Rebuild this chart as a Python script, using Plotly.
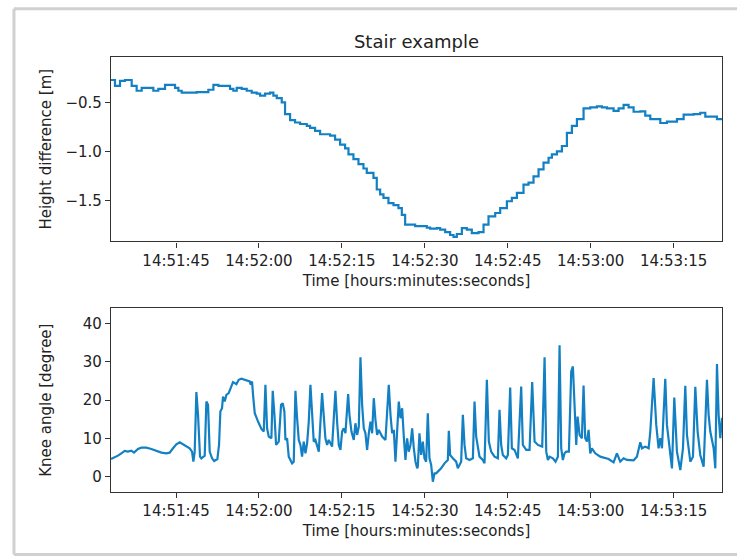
import plotly.graph_objects as go
from datetime import datetime, timedelta

# ---------------- data ----------------
base_time = datetime(2021, 1, 1, 14, 51, 45)
x_start_s = -11.76
x_end_s = 98.75

# Height difference (step series), time offsets in seconds from 14:51:45
height_t = [-11.76, -11.04, -10.13, -9.23, -8.02, -7.12, -6.21, -4.10, -3.20, -1.99,
            -0.18, 0.42, 1.03, 3.74, 5.85, 6.76, 7.66, 9.77, 10.37, 10.98,
            11.88, 12.79, 13.69, 14.60, 15.20, 16.11, 17.01, 17.61, 18.22, 19.12,
            19.72, 20.63, 21.53, 22.44, 23.65, 24.25, 25.15, 26.06, 27.87, 28.77,
            29.68, 30.58, 31.19, 32.09, 33.00, 33.90, 34.50, 35.71, 36.31, 36.92,
            37.52, 38.42, 39.33, 40.23, 40.84, 41.44, 43.25, 45.36, 45.96, 47.17,
            47.77, 48.68, 49.58, 50.19, 50.79, 51.70, 52.60, 53.50, 54.71, 55.62,
            56.52, 57.73, 58.63, 59.84, 60.74, 61.65, 62.85, 63.76, 64.66, 65.57,
            66.47, 67.38, 67.98, 68.89, 69.79, 70.70, 71.60, 72.51, 73.71, 74.92,
            76.12, 77.03, 77.94, 79.14, 80.05, 80.95, 81.85, 82.76, 83.97, 84.87,
            85.78, 87.59, 88.79, 90.60, 91.81, 93.62, 94.82, 95.73, 97.84, 98.75]
height_v = [-0.27, -0.33, -0.28, -0.27, -0.33, -0.38, -0.35, -0.38, -0.36, -0.32,
            -0.35, -0.38, -0.40, -0.395, -0.37, -0.32, -0.33, -0.36, -0.38, -0.35,
            -0.36, -0.38, -0.40, -0.41, -0.43, -0.41, -0.40, -0.43, -0.455, -0.50,
            -0.62, -0.68, -0.705, -0.72, -0.74, -0.76, -0.79, -0.825, -0.84, -0.88,
            -0.93, -0.97, -1.03, -1.08, -1.13, -1.175, -1.22, -1.27, -1.39, -1.44,
            -1.475, -1.53, -1.55, -1.58, -1.65, -1.75, -1.765, -1.78, -1.79, -1.785,
            -1.80, -1.825, -1.855, -1.875, -1.845, -1.785, -1.80, -1.835, -1.825, -1.75,
            -1.665, -1.63, -1.58, -1.51, -1.475, -1.425, -1.34, -1.32, -1.255, -1.185,
            -1.115, -1.065, -1.03, -1.00, -0.945, -0.81, -0.74, -0.67, -0.56, -0.55,
            -0.54, -0.55, -0.56, -0.585, -0.56, -0.525, -0.55, -0.595, -0.59, -0.635,
            -0.67, -0.71, -0.695, -0.67, -0.625, -0.62, -0.605, -0.645, -0.67, -0.67]

# Knee angle, time offsets in seconds from 14:51:45
knee_t = [-11.76, -11.10, -10.50, -9.89, -9.29, -8.69, -8.08, -7.60, -6.88, -6.27,
          -5.37, -4.46, -3.86, -3.26, -2.65, -1.75, -1.15, -0.54, 0.06, 0.66,
          1.27, 1.87, 2.47, 2.90, 3.14, 3.38, 3.68, 3.98, 4.34, 4.58,
          4.89, 5.19, 5.49, 5.79, 6.09, 6.52, 6.90, 7.48, 7.78, 8.02,
          8.32, 8.50, 8.81, 9.11, 9.53, 10.01, 10.31, 10.92, 11.34, 11.82,
          12.43, 13.03, 13.33, 13.51, 13.75, 13.93, 14.24, 14.84, 15.44, 15.87,
          16.17, 16.47, 16.77, 17.25, 17.49, 17.80, 18.10, 18.58, 19.00, 19.30,
          19.60, 19.79, 20.09, 20.39, 20.99, 21.29, 21.60, 21.90, 22.20, 22.50,
          22.80, 23.10, 23.41, 23.71, 24.01, 24.31, 24.61, 24.91, 25.21, 25.82,
          26.42, 26.72, 27.02, 27.33, 27.63, 28.23, 28.83, 29.13, 29.44, 29.74,
          30.04, 30.34, 30.64, 31.13, 31.37, 31.73, 32.15, 32.45, 32.75, 33.06,
          33.36, 33.66, 33.96, 34.26, 34.56, 34.87, 35.17, 35.47, 35.77, 36.07,
          36.37, 36.67, 37.28, 37.88, 38.48, 38.79, 39.09, 39.39, 39.69, 39.99,
          40.29, 40.60, 40.90, 41.20, 41.50, 41.80, 42.10, 42.41, 42.71, 43.01,
          43.31, 43.61, 43.73, 44.03, 44.34, 44.64, 44.94, 45.24, 45.54, 45.84,
          46.15, 46.45, 46.75, 47.05, 47.35, 47.95, 48.56, 49.16, 49.34, 49.58,
          50.07, 50.67, 50.97, 51.57, 51.88, 52.18, 52.48, 53.08, 53.69, 53.99,
          54.29, 54.89, 55.49, 55.80, 56.22, 56.58, 57.00, 57.61, 58.21, 58.51,
          58.81, 59.11, 59.72, 60.02, 60.44, 60.74, 61.23, 61.83, 62.43, 62.73,
          63.34, 63.94, 64.42, 64.85, 65.45, 66.23, 66.66, 66.96, 67.26, 67.56,
          68.16, 68.64, 69.07, 69.37, 69.67, 69.97, 70.27, 70.58, 71.06, 71.48,
          71.78, 72.02, 72.39, 72.63, 72.99, 73.41, 73.71, 74.01, 74.32, 74.62,
          74.92, 75.22, 75.82, 76.73, 77.63, 78.24, 79.14, 79.74, 80.35, 80.95,
          81.55, 82.16, 82.76, 83.36, 83.97, 84.27, 84.87, 85.48, 85.78, 86.38,
          86.86, 87.28, 87.59, 87.89, 88.49, 88.79, 89.40, 89.70, 90.12, 90.60,
          91.21, 91.69, 92.11, 92.41, 93.02, 93.50, 93.92, 94.34, 94.82, 95.43,
          96.03, 96.33, 96.63, 97.24, 97.54, 97.84, 98.14, 98.44, 98.75]
knee_v = [4.63, 4.98, 5.50, 6.11, 6.73, 6.55, 6.81, 6.29, 7.25, 7.60,
          7.60, 7.25, 6.99, 6.55, 6.29, 6.11, 6.29, 7.42, 8.47, 9.00,
          8.47, 7.86, 7.42, 6.55, 3.93, 6.55, 22.10, 16.16, 5.24, 4.80,
          5.24, 5.50, 19.65, 18.78, 6.55, 4.80, 4.11, 4.63, 8.30, 17.03,
          17.90, 20.96, 19.65, 21.40, 21.84, 23.58, 24.72, 24.19, 25.33, 25.59,
          25.33, 25.07, 24.89, 24.02, 24.89, 21.40, 16.59, 14.41, 12.49, 11.79,
          24.02, 12.66, 10.48, 10.04, 22.45, 16.16, 8.30, 9.17, 18.78, 19.21,
          17.03, 9.61, 10.04, 5.24, 3.49, 3.93, 22.45, 15.28, 9.61, 8.30,
          5.24, 9.17, 6.11, 8.73, 14.41, 24.02, 15.28, 9.17, 9.61, 6.55,
          21.84, 16.16, 10.04, 8.30, 9.61, 7.86, 22.45, 14.41, 8.30, 6.99,
          11.79, 12.66, 11.35, 21.57, 16.16, 11.79, 9.61, 13.97, 10.92, 13.10,
          31.18, 18.78, 12.66, 11.35, 6.99, 11.35, 14.41, 11.35, 20.52, 14.85,
          10.92, 12.23, 10.48, 9.61, 24.02, 16.16, 11.35, 12.23, 3.93, 11.79,
          19.65, 15.28, 17.90, 10.48, 4.37, 10.04, 6.55, 8.30, 12.66, 7.42,
          3.93, 2.18, 2.62, 11.35, 5.68, 9.17, 4.80, 3.93, 16.59, 4.80,
          3.06, -1.31, 0.87, 0.87, 1.31, 2.18, 3.49, 4.37, 11.97, 5.68,
          4.80, 3.93, 2.18, 3.93, 16.16, 8.30, 4.80, 4.37, 4.80, 19.65,
          10.48, 5.24, 4.37, 3.49, 25.33, 9.17, 6.55, 5.24, 4.80, 17.47,
          8.30, 5.68, 4.80, 5.68, 23.32, 7.42, 6.99, 4.80, 23.58, 8.30,
          6.99, 6.99, 24.72, 9.17, 8.30, 7.86, 31.18, 6.55, 4.37, 5.24,
          4.80, 3.93, 5.24, 34.32, 7.42, 4.37, 6.11, 6.55, 6.55, 27.51,
          28.82, 18.78, 8.30, 15.72, 10.92, 10.04, 23.84, 10.04, 9.17, 12.23,
          6.11, 7.42, 6.11, 5.24, 4.80, 4.63, 3.76, 6.11, 3.93, 4.80,
          4.37, 4.28, 4.28, 5.24, 8.99, 7.42, 7.86, 7.42, 11.79, 25.77,
          13.54, 7.42, 10.04, 7.42, 25.59, 13.54, 5.24, 2.18, 20.70, 6.55,
          1.75, 7.42, 23.76, 10.92, 3.93, 5.24, 23.50, 11.79, 5.68, 2.62,
          25.33, 16.16, 11.79, 7.42, 2.18, 29.43, 16.16, 10.04, 15.40]

height_yticks = [-1.5, -1.0, -0.5]
height_yticklabels = ["\u22121.5", "\u22121.0", "\u22120.5"]
knee_yticks = [0, 10, 20, 30, 40]
height_range = [-1.921, -0.035]
knee_range = [-4.0, 44.0]


def to_time(offsets):
    return [base_time + timedelta(seconds=s) for s in offsets]


line_color = "#1380c4"
text_color = "#222222"
font_family = "DejaVu Sans"

fig = go.Figure()
fig.add_trace(go.Scatter(x=to_time(height_t), y=height_v, mode="lines",
                         line=dict(color=line_color, width=2.2, shape="hv"),
                         xaxis="x", yaxis="y", showlegend=False))
fig.add_trace(go.Scatter(x=to_time(knee_t), y=knee_v, mode="lines",
                         line=dict(color=line_color, width=2.2),
                         xaxis="x2", yaxis="y2", showlegend=False))

x_range = [base_time + timedelta(seconds=x_start_s), base_time + timedelta(seconds=x_end_s)]

common_x = dict(type="date", range=x_range, tickformat="%H:%M:%S", automargin=False,
                tick0=base_time, dtick=15000, showgrid=False, zeroline=False,
                showline=True, linecolor="#333333", linewidth=1.2, mirror=True,
                ticks="outside", ticklen=5, tickwidth=1.2, tickcolor="#333333",
                tickfont=dict(family=font_family, size=15, color=text_color))
common_y = dict(showgrid=False, zeroline=False, showline=True, linecolor="#333333",
                automargin=False,
                linewidth=1.2, mirror=True, ticks="outside", ticklen=5, tickwidth=1.2,
                tickcolor="#333333",
                tickfont=dict(family=font_family, size=15, color=text_color))

frame_color = "#d0d0d0"
frame_lines = [
    dict(x0=-0.1588, x1=-0.1588, y0=-0.1434, y1=1.1112),   # left
    dict(x0=-0.1588, x1=1.05, y0=1.1112, y1=1.1112),       # top
    dict(x0=-0.1588, x1=1.05, y0=-0.1434, y1=-0.1434),     # bottom
]
shapes = [dict(type="line", xref="paper", yref="paper", layer="below",
               line=dict(color=frame_color, width=3), **fl) for fl in frame_lines]

fig.update_layout(
    width=737, height=558,
    paper_bgcolor="white", plot_bgcolor="white",
    margin=dict(l=111, r=15, t=57, b=66, pad=0, autoexpand=False),
    font=dict(family=font_family, size=15, color=text_color),
    title=dict(text="Stair example", x=0.5, xref="paper", xanchor="center",
               y=1 - 42 / 558, yref="container", yanchor="middle", automargin=False,
               font=dict(family=font_family, size=18, color=text_color)),
    xaxis=dict(common_x, domain=[0, 1], anchor="y",
               title=dict(text="Time [hours:minutes:seconds]", standoff=6,
                          font=dict(family=font_family, size=15, color=text_color))),
    yaxis=dict(common_y, domain=[0.576, 1.0], anchor="x", range=height_range,
               tickvals=height_yticks, ticktext=height_yticklabels,
               title=dict(text="Height difference [m]", standoff=10,
                          font=dict(family=font_family, size=15, color=text_color))),
    xaxis2=dict(common_x, domain=[0, 1], anchor="y2",
                title=dict(text="Time [hours:minutes:seconds]", standoff=6,
                           font=dict(family=font_family, size=15, color=text_color))),
    yaxis2=dict(common_y, domain=[0.0, 0.4222], anchor="x2", range=knee_range,
                tickvals=knee_yticks,
                title=dict(text="Knee angle [degree]", standoff=27,
                           font=dict(family=font_family, size=15, color=text_color))),
    shapes=shapes,
)

fig.write_html("out.html", config={"displayModeBar": False},
               post_script="document.body.style.margin='0';document.body.style.padding='0';")
